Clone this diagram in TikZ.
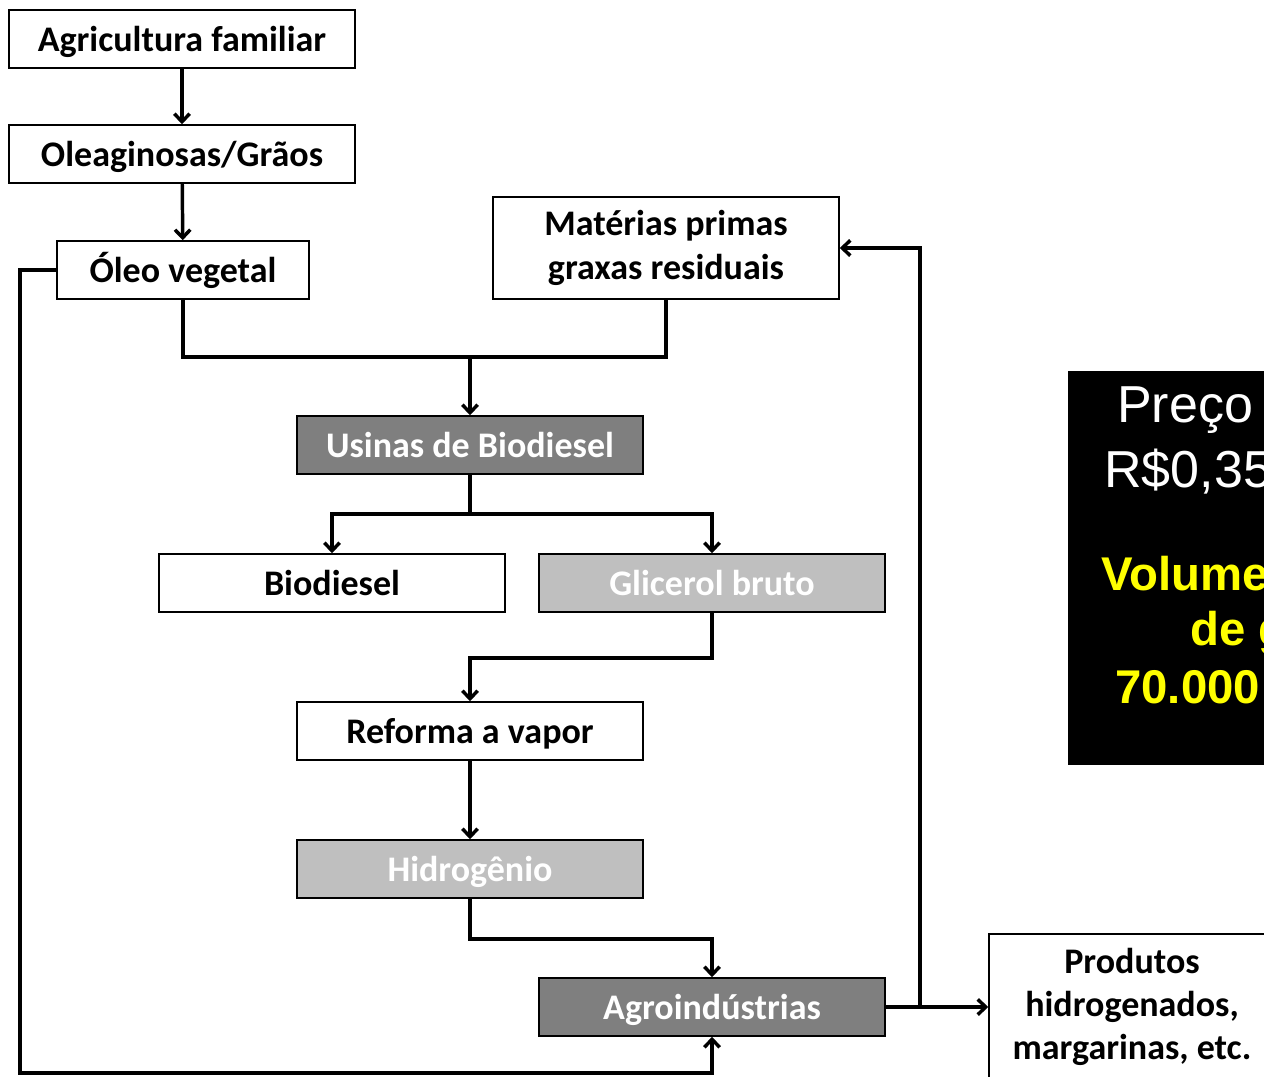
\documentclass[tikz,border=0pt]{standalone}
\usepackage{fontspec}
\setmainfont{Carlito}
\newfontfamily\arialf{Liberation Sans}
\usetikzlibrary{arrows.meta}
\definecolor{darkg}{HTML}{7F7F7F}
\definecolor{lightg}{HTML}{BFBFBF}
\definecolor{yel}{HTML}{FFFF00}
\tikzset{
  box/.style={draw, line width=1.2pt, inner sep=0pt, align=center,
    minimum width=259.5pt, minimum height=43.5pt,
    font=\bfseries\fontsize{27}{32.5}\selectfont},
  one/.style={box, text height=23pt, text depth=4pt},
  darkbox/.style={one, fill=darkg, text=white},
  lightbox/.style={one, fill=lightg, text=white},
  conn/.style={line width=2.6pt},
  arr/.style={conn, -{Straight Barb[length=6pt,width=11.5pt]}},
  bigtxt/.style={anchor=base west, inner sep=0pt, text=white, font=\arialf\fontsize{39}{39}\selectfont},
  yeltxt/.style={anchor=base west, inner sep=0pt, text=yel, font=\arialf\bfseries\fontsize{35.5}{35.5}\selectfont}
}
\begin{document}
\begin{tikzpicture}[x=0.75pt,y=-0.75pt]
\useasboundingbox (0,0) rectangle (1264,1077);
\clip (0,0) rectangle (1264,1077);
\fill[white] (0,0) rectangle (1264,1077);
% nodes
\node[one] (agri) at (182,39) {Agricultura familiar};
\node[one] (olea) at (182,154) {Oleaginosas/Grãos};
\node[one, minimum width=189pt] (oleo) at (183,270) {Óleo vegetal};
\node[box, minimum height=76.5pt] (mat) at (666,248) {Matérias primas\\graxas residuais};
\node[darkbox] (usi) at (470,445) {Usinas de Biodiesel};
\node[one] (bio) at (332,583) {Biodiesel};
\node[lightbox] (gli) at (712,583) {Glicerol bruto};
\node[one] (ref) at (470,731) {Reforma a vapor};
\node[lightbox] (hid) at (470,869) {Hidrogênio};
\node[darkbox] (agro) at (712,1007) {Agroindústrias};
\node[box, minimum width=214.5pt, minimum height=109.5pt] (prod) at (1132,1007) {Produtos\\hidrogenados,\\margarinas, etc.};
% black box
\fill[black] (1068,371) rectangle (1300,765);
\node[bigtxt] (t1) at (1117,422) {Preço};
\node[bigtxt] (t2) at (1104,487) {R\$0,35};
\node[yeltxt] (t3) at (1101,590) {Volume};
\node[yeltxt] (t4) at (1190,645) {de g};
\node[yeltxt] (t5) at (1115,703) {70.000};
% connectors
\draw[arr] (agri) -- (olea);
\draw[arr] (olea) -- (oleo);
\draw[conn] (oleo.south) -- ++(0,57) -| (mat.south);
\coordinate (j1) at (470,356);
\draw[arr] (j1) -- (usi.north);
\draw[conn] (usi.south) -- ++(0,39) coordinate (j2);
\draw[arr] (j2) -| (bio.north);
\draw[arr] (j2) -| (gli.north);
\draw[arr] (gli.south) -- ++(0,45) -| (ref.north);
\draw[arr] (ref) -- (hid);
\draw[arr] (hid.south) -- ++(0,40) -| (agro.north);
\draw[arr] (agro.east) -- (prod.west);
\coordinate (j3) at (920,1007);
\draw[arr] (j3) |- (mat.east);
\coordinate (j4) at (20,1073);
\draw[arr] (oleo.west) -| (j4) -| (agro.south);
\end{tikzpicture}
\end{document}
